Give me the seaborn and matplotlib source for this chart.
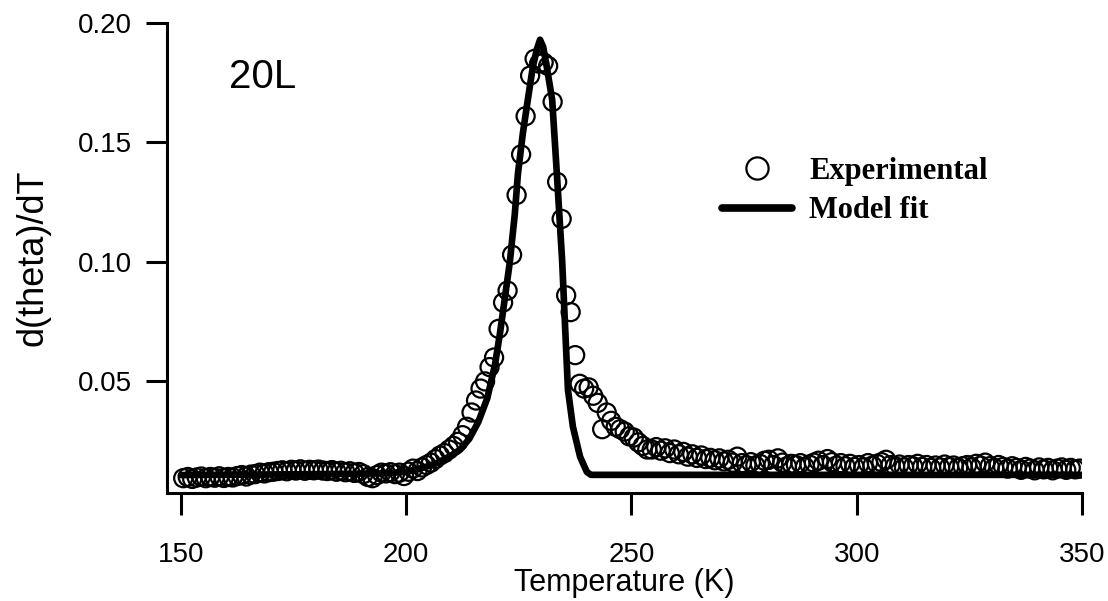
import matplotlib
matplotlib.use("Agg")
import matplotlib.pyplot as plt
import numpy as np
import pandas as pd
import seaborn as sns
from matplotlib.lines import Line2D

# Experimental d(theta)/dT, one reading per kelvin from 150.5 K to 349.5 K
temp_exp = np.arange(150.5, 350.0, 1.0)
dtheta_exp = [
    # 150.5 - 159.5
    0.0095, 0.0100, 0.0092, 0.0098, 0.0102, 0.0095, 0.0100, 0.0097, 0.0103, 0.0096,
    # 160.5 - 169.5
    0.0100, 0.0098, 0.0104, 0.0108, 0.0102, 0.0110, 0.0112, 0.0118, 0.0115, 0.0120,
    # 170.5 - 179.5
    0.0122, 0.0125, 0.0128, 0.0124, 0.0130, 0.0127, 0.0132, 0.0126, 0.0130, 0.0128,
    # 180.5 - 189.5
    0.0131, 0.0127, 0.0125, 0.0129, 0.0122, 0.0126, 0.0120, 0.0124, 0.0117, 0.0121,
    # 190.5 - 199.5
    0.0112, 0.0100, 0.0095, 0.0108, 0.0118, 0.0115, 0.0120, 0.0112, 0.0118, 0.0104,
    # 200.5 - 209.5
    0.0122, 0.0135, 0.0125, 0.0140, 0.0150, 0.0160, 0.0175, 0.0190, 0.0200, 0.0215,
    # 210.5 - 219.5
    0.0230, 0.0247, 0.0275, 0.0310, 0.0370, 0.0420, 0.0470, 0.0500, 0.0560, 0.0600,
    # 220.5 - 229.5
    0.0720, 0.0830, 0.0880, 0.1030, 0.1280, 0.1450, 0.1610, 0.1780, 0.1850, 0.1830,
    # 230.5 - 239.5
    0.1835, 0.1820, 0.1670, 0.1335, 0.1180, 0.0860, 0.0790, 0.0610, 0.0490, 0.0470,
    # 240.5 - 249.5
    0.0475, 0.0440, 0.0410, 0.0300, 0.0370, 0.0335, 0.0310, 0.0300, 0.0290, 0.0270,
    # 250.5 - 259.5
    0.0265, 0.0245, 0.0230, 0.0215, 0.0215, 0.0225, 0.0210, 0.0220, 0.0200, 0.0215,
    # 260.5 - 269.5
    0.0195, 0.0205, 0.0185, 0.0195, 0.0180, 0.0190, 0.0175, 0.0180, 0.0170, 0.0178,
    # 270.5 - 279.5
    0.0165, 0.0172, 0.0160, 0.0185, 0.0158, 0.0150, 0.0162, 0.0148, 0.0155, 0.0168,
    # 280.5 - 289.5
    0.0172, 0.0150, 0.0178, 0.0160, 0.0145, 0.0155, 0.0150, 0.0158, 0.0142, 0.0152,
    # 290.5 - 299.5
    0.0160, 0.0168, 0.0150, 0.0175, 0.0162, 0.0148, 0.0158, 0.0145, 0.0155, 0.0142,
    # 300.5 - 309.5
    0.0150, 0.0140, 0.0158, 0.0148, 0.0155, 0.0162, 0.0172, 0.0150, 0.0145, 0.0152,
    # 310.5 - 319.5
    0.0140, 0.0150, 0.0145, 0.0155, 0.0142, 0.0150, 0.0138, 0.0148, 0.0140, 0.0152,
    # 320.5 - 329.5
    0.0142, 0.0148, 0.0138, 0.0145, 0.0150, 0.0140, 0.0155, 0.0148, 0.0160, 0.0145,
    # 330.5 - 339.5
    0.0138, 0.0150, 0.0142, 0.0135, 0.0145, 0.0138, 0.0130, 0.0142, 0.0135, 0.0128,
    # 340.5 - 349.5
    0.0140, 0.0132, 0.0138, 0.0128, 0.0135, 0.0140, 0.0130, 0.0138, 0.0132, 0.0135,
]

# Model fit curve
temp_fit = [150, 165, 180, 195, 200, 204, 207, 210, 212, 214, 216, 218, 219.7,
            220.8, 221.9, 223.0, 224.1, 224.8, 225.9, 227.0, 228.1, 229.0, 229.7,
            230.4, 231.2, 232.4, 233.5, 234.6, 235.5, 235.9, 237.0, 238.6, 240.1,
            241.0, 260, 300, 350]
dtheta_fit = [0.0108, 0.0110, 0.0112, 0.0115, 0.0122, 0.0140, 0.0160, 0.0190,
              0.0215, 0.0260, 0.0330, 0.0430, 0.0570, 0.0700, 0.0850, 0.1000,
              0.1200, 0.1370, 0.1540, 0.1680, 0.1816, 0.1890, 0.1930, 0.1900,
              0.1816, 0.1678, 0.1350, 0.1008, 0.0630, 0.0465, 0.0310, 0.0184,
              0.0121, 0.0109, 0.0109, 0.0109, 0.0109]

x_ticks = [150, 200, 250, 300, 350]
y_ticks = [0.05, 0.10, 0.15, 0.20]
sample_label = "20L"
series_labels = ["Experimental", "Model fit"]

exp_df = pd.DataFrame({"T": temp_exp, "d": dtheta_exp})
fit_df = pd.DataFrame({"T": temp_fit, "d": dtheta_fit})

sns.set_theme(style="ticks")
plt.rcParams["font.family"] = ["Liberation Sans", "DejaVu Sans"]
plt.rcParams["text.color"] = "black"
plt.rcParams["axes.labelcolor"] = "black"

fig = plt.figure(figsize=(11.08, 6.01), dpi=100)
ax = fig.add_axes([167 / 1108, 1 - 493 / 601, (1082 - 167) / 1108, (493 - 23) / 601])

sns.scatterplot(data=exp_df, x="T", y="d", ax=ax, marker="o", s=170,
                facecolor="none", edgecolor="black", linewidth=1.6, zorder=2,
                legend=False)
sns.lineplot(data=fit_df, x="T", y="d", ax=ax, color="black", linewidth=4.8,
             sort=False, estimator=None, zorder=3, legend=False)

ax.set_xlim(146.9, 350)
ax.set_ylim(0.0033, 0.20)
ax.set_xticks(x_ticks)
ax.set_xticklabels([str(t) for t in x_ticks],
                   family=["Liberation Sans Narrow", "Liberation Sans"], fontsize=20)
ax.set_yticks(y_ticks)
ax.set_yticklabels([f"{t:.2f}" for t in y_ticks], fontsize=20)

for side in ["top", "right"]:
    ax.spines[side].set_visible(False)
for side in ["left", "bottom"]:
    ax.spines[side].set_linewidth(2.2)
    ax.spines[side].set_color("black")
ax.tick_params(axis="y", direction="out", length=15, width=2.2, pad=10,
               colors="black", labelcolor="black")
ax.tick_params(axis="x", direction="out", length=16, width=2.2, pad=19,
               colors="black", labelcolor="black")

ax.set_xlabel("Temperature (K)", fontsize=22,
              family=["Liberation Sans Narrow", "Liberation Sans"], labelpad=0)
ax.set_ylabel("d(theta)/dT", fontsize=26, labelpad=20)

ax.text(0.068, 0.885, sample_label, transform=ax.transAxes, fontsize=29,
        ha="left", va="center", color="black")

handles = [
    Line2D([], [], marker="o", linestyle="none", markersize=16,
           markerfacecolor="none", markeredgecolor="black", markeredgewidth=1.6),
    Line2D([], [], color="black", linewidth=5.5),
]
leg = ax.legend(handles, series_labels, loc="center left",
                bbox_to_anchor=(722 / 1108, 1 - 191 / 601),
                bbox_transform=fig.transFigure, frameon=False,
                prop={"family": ["Liberation Serif", "DejaVu Serif"],
                      "weight": "bold", "size": 22},
                handlelength=2.3, handletextpad=0.55, labelspacing=0.35,
                borderpad=0, borderaxespad=0)
for txt in leg.get_texts():
    txt.set_color("black")

fig.savefig("out.png", dpi=100, facecolor="white")
